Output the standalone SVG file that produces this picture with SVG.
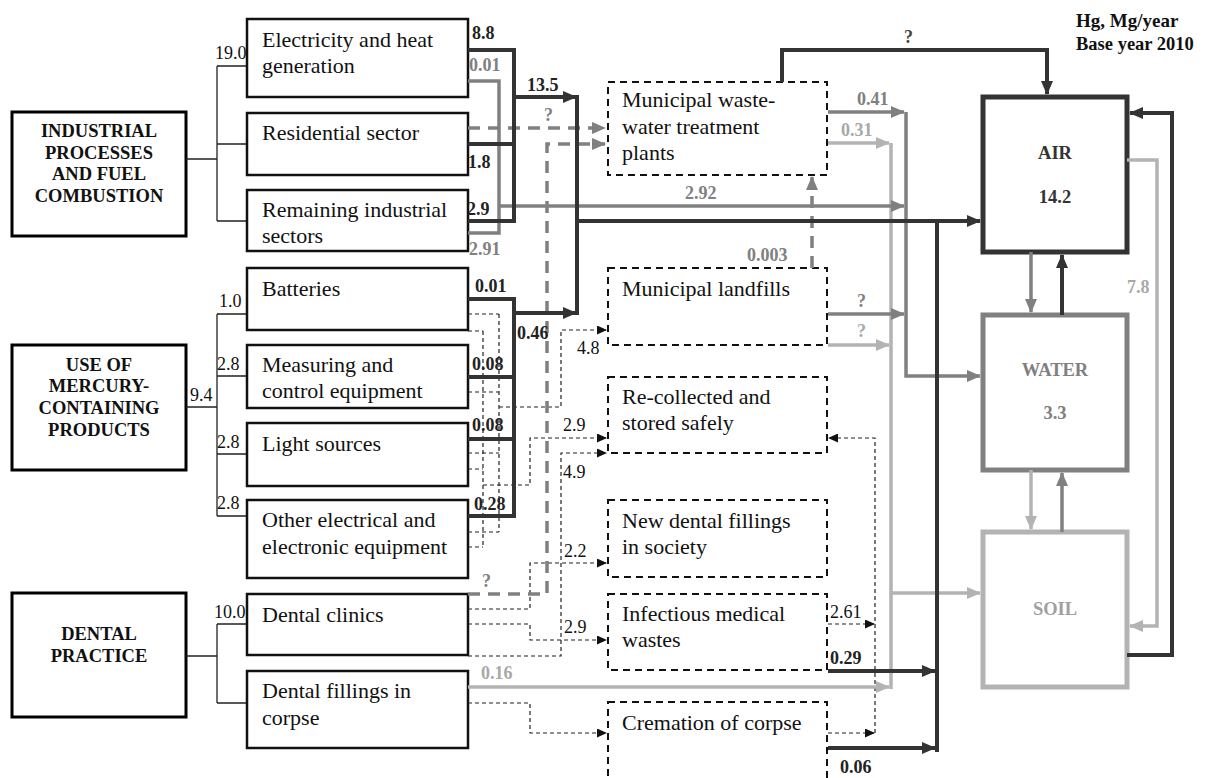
<svg xmlns="http://www.w3.org/2000/svg" width="1207" height="778" viewBox="0 0 1207 778">
<style>
.cat{fill:#fff;stroke:#000;stroke-width:3}
.sub{fill:#fff;stroke:#111;stroke-width:2.5}
.proc{fill:#fff;stroke:#111;stroke-width:2;stroke-dasharray:7 5}
.t{font-family:"Liberation Serif",serif;font-size:22px;fill:#111}
.tc{font-family:"Liberation Serif",serif;font-size:18.5px;font-weight:bold;fill:#111;text-anchor:middle}
.n{font-family:"Liberation Serif",serif;font-size:18px;fill:#111}
.b{font-family:"Liberation Serif",serif;font-size:18px;font-weight:bold;fill:#222}
.bg{font-family:"Liberation Serif",serif;font-size:18px;font-weight:bold;fill:#808080}
.bl{font-family:"Liberation Serif",serif;font-size:18px;font-weight:bold;fill:#a8a8a8}
.tree{fill:none;stroke:#222;stroke-width:1.3}
.dk{fill:none;stroke:#333;stroke-width:4}
.gr{fill:none;stroke:#808080;stroke-width:3.5}
.lg{fill:none;stroke:#b3b3b3;stroke-width:3.5}
.gd{fill:none;stroke:#808080;stroke-width:3.5;stroke-dasharray:12 8}
.td{fill:none;stroke:#222;stroke-width:1.2;stroke-dasharray:4 3}
</style>
<defs>
<marker id="aD" markerUnits="userSpaceOnUse" markerWidth="14" markerHeight="12" refX="13" refY="6" orient="auto"><path d="M0,0 L14,6 L0,12 z" fill="#333"/></marker>
<marker id="aG" markerUnits="userSpaceOnUse" markerWidth="14" markerHeight="12" refX="13" refY="6" orient="auto"><path d="M0,0 L14,6 L0,12 z" fill="#808080"/></marker>
<marker id="aL" markerUnits="userSpaceOnUse" markerWidth="14" markerHeight="12" refX="13" refY="6" orient="auto"><path d="M0,0 L14,6 L0,12 z" fill="#b3b3b3"/></marker>
<marker id="aT" markerUnits="userSpaceOnUse" markerWidth="10" markerHeight="9" refX="9" refY="4.5" orient="auto"><path d="M0,0 L10,4.5 L0,9 z" fill="#111"/></marker>
</defs>

<g id="header">
<text class="tc" x="1076" y="27" style="text-anchor:start;font-size:19px">Hg, Mg/year</text>
<text class="tc" x="1076" y="50" style="text-anchor:start;font-size:18.5px">Base year 2010</text>
</g>

<g id="cat-industrial">
<rect class="cat" x="12" y="112" width="174" height="124"/>
<text class="tc" x="99" y="137">INDUSTRIAL</text>
<text class="tc" x="99" y="159">PROCESSES</text>
<text class="tc" x="99" y="180">AND FUEL</text>
<text class="tc" x="99" y="202">COMBUSTION</text>
</g>
<g id="cat-products">
<rect class="cat" x="12" y="345" width="174" height="125"/>
<text class="tc" x="99" y="371">USE OF</text>
<text class="tc" x="99" y="392">MERCURY-</text>
<text class="tc" x="99" y="414">CONTAINING</text>
<text class="tc" x="99" y="436">PRODUCTS</text>
</g>
<g id="cat-dental">
<rect class="cat" x="12" y="593" width="174" height="124"/>
<text class="tc" x="99" y="640">DENTAL</text>
<text class="tc" x="99" y="662">PRACTICE</text>
</g>

<g id="tree">
<path class="tree" d="M186,159 H217 M217,66 V221 M217,66 H247 M217,144 H247 M217,221 H247"/>
<path class="tree" d="M186,407 H217 M217,314 V516 M217,314 H247 M217,376 H247 M217,454 H247 M217,516 H247"/>
<path class="tree" d="M186,656 H217 M217,624 V703 M217,624 H247 M217,703 H247"/>
<text class="n" x="215" y="59">19.0</text>
<text class="n" x="219" y="307">1.0</text>
<text class="n" x="217" y="370">2.8</text>
<text class="n" x="217" y="448">2.8</text>
<text class="n" x="217" y="509">2.8</text>
<text class="n" x="190" y="401">9.4</text>
<text class="n" x="214" y="618">10.0</text>
</g>

<g id="sub-electricity"><rect class="sub" x="247" y="19" width="221" height="78"/><text class="t" x="262" y="47">Electricity and heat</text><text class="t" x="262" y="73">generation</text></g>
<g id="sub-residential"><rect class="sub" x="247" y="113" width="221" height="62"/><text class="t" x="262" y="140">Residential sector</text></g>
<g id="sub-remaining"><rect class="sub" x="247" y="190" width="221" height="61"/><text class="t" x="262" y="217">Remaining industrial</text><text class="t" x="262" y="243">sectors</text></g>
<g id="sub-batteries"><rect class="sub" x="247" y="268" width="221" height="62"/><text class="t" x="262" y="296">Batteries</text></g>
<g id="sub-measuring"><rect class="sub" x="247" y="345" width="221" height="63"/><text class="t" x="262" y="372">Measuring and</text><text class="t" x="262" y="398">control equipment</text></g>
<g id="sub-light"><rect class="sub" x="247" y="423" width="221" height="63"/><text class="t" x="262" y="451">Light sources</text></g>
<g id="sub-other"><rect class="sub" x="247" y="500" width="221" height="78"/><text class="t" x="262" y="527">Other electrical and</text><text class="t" x="262" y="554">electronic equipment</text></g>
<g id="sub-clinics"><rect class="sub" x="247" y="594" width="221" height="61"/><text class="t" x="262" y="622">Dental clinics</text></g>
<g id="sub-corpse"><rect class="sub" x="247" y="671" width="221" height="77"/><text class="t" x="262" y="698">Dental fillings in</text><text class="t" x="262" y="725">corpse</text></g>

<g id="proc-wwtp"><rect class="proc" x="608" y="82" width="219" height="93"/><text class="t" x="622" y="107">Municipal waste-</text><text class="t" x="622" y="134">water treatment</text><text class="t" x="622" y="160">plants</text></g>
<g id="proc-landfills"><rect class="proc" x="608" y="268" width="219" height="77"/><text class="t" x="622" y="296">Municipal landfills</text></g>
<g id="proc-recollected"><rect class="proc" x="608" y="377" width="219" height="76"/><text class="t" x="622" y="404">Re-collected and</text><text class="t" x="622" y="430">stored safely</text></g>
<g id="proc-newfillings"><rect class="proc" x="608" y="500" width="219" height="77"/><text class="t" x="622" y="528">New dental fillings</text><text class="t" x="622" y="554">in society</text></g>
<g id="proc-infectious"><rect class="proc" x="608" y="594" width="219" height="76"/><text class="t" x="622" y="621">Infectious medical</text><text class="t" x="622" y="647">wastes</text></g>
<g id="proc-cremation"><rect class="proc" x="608" y="702" width="219" height="100"/><text class="t" x="622" y="730">Cremation of corpse</text></g>

<g id="env-air"><rect x="983" y="97" width="144" height="155" fill="#fff" stroke="#333" stroke-width="5"/><text class="tc" x="1055" y="159" style="fill:#333">AIR</text><text class="tc" x="1055" y="203" style="fill:#333">14.2</text></g>
<g id="env-water"><rect x="983" y="315" width="144" height="155" fill="#fff" stroke="#808080" stroke-width="5"/><text class="tc" x="1055" y="376" style="fill:#808080">WATER</text><text class="tc" x="1055" y="419" style="fill:#808080">3.3</text></g>
<g id="env-soil"><rect x="983" y="532" width="144" height="155" fill="#fff" stroke="#b3b3b3" stroke-width="5"/><text class="tc" x="1055" y="615" style="fill:#a0a0a0">SOIL</text></g>

<g id="connectors">
<path class="td" d="M468,314 H499 M468,392 H499 M468,453 H499 M468,532 H499 M499,314 V532"/>
<path class="td" d="M499,407 H561 V330 H606" marker-end="url(#aT)"/>
<path class="td" d="M468,331 H483 M468,469 H483 M468,547 H483 M483,331 V547"/>
<path class="td" d="M483,485 H530 V438 H606" marker-end="url(#aT)"/>
<path class="td" d="M468,656 H561 V453 H606" marker-end="url(#aT)"/>
<path class="td" d="M468,609 H530 V563 H606" marker-end="url(#aT)"/>
<path class="td" d="M468,624 H530 V640 H606" marker-end="url(#aT)"/>
<path class="td" d="M468,703 H530 V733 H606" marker-end="url(#aT)"/>
<path class="td" d="M828,624 H874" marker-end="url(#aT)"/>
<path class="td" d="M828,733 H874" marker-end="url(#aT)"/>
<path class="td" d="M875,733 V438 H829" marker-end="url(#aT)"/>

<path class="gd" d="M468,128 H605" marker-end="url(#aG)"/>
<path class="gd" d="M468,594 H547 V144 H605" marker-end="url(#aG)"/>
<path class="gd" d="M812,268 V177" marker-end="url(#aG)"/>

<path class="lg" d="M891,143 V689"/>
<path class="lg" d="M828,143 H889" marker-end="url(#aL)"/>
<path class="lg" d="M828,345 H889" marker-end="url(#aL)"/>
<path class="lg" d="M468,687 H889" marker-end="url(#aL)"/>
<path class="lg" d="M891,593 H980" marker-end="url(#aL)"/>
<path class="lg" d="M1127,160 H1157 V626 H1130" marker-end="url(#aL)"/>
<path class="lg" d="M1031,470 V529" marker-end="url(#aL)"/>

<path class="gr" d="M468,81 H499 V233 H468"/>
<path class="gr" d="M499,206 H904" marker-end="url(#aG)"/>
<path class="gr" d="M828,112 H904" marker-end="url(#aG)"/>
<path class="gr" d="M828,314 H904" marker-end="url(#aG)"/>
<path class="gr" d="M906,112 V376 H980" marker-end="url(#aG)"/>
<path class="gr" d="M1031,252 V312" marker-end="url(#aG)"/>
<path class="gr" d="M1062,532 V473" marker-end="url(#aG)"/>

<path class="dk" d="M468,50 H514 V221 H468 M468,144 H514"/>
<path class="dk" d="M514,97 H576" marker-end="url(#aD)"/>
<path class="dk" d="M577,95 V315"/>
<path class="dk" d="M577,221 H980" marker-end="url(#aD)"/>
<path class="dk" d="M468,299 H514 V516 H468 M468,377 H514 M468,439 H514"/>
<path class="dk" d="M514,313 H576" marker-end="url(#aD)"/>
<path class="dk" d="M782,82 V50 H1047 V94" marker-end="url(#aD)"/>
<path class="dk" d="M937,221 V752"/>
<path class="dk" d="M828,671 H935" marker-end="url(#aD)"/>
<path class="dk" d="M828,748 H935" marker-end="url(#aD)"/>
<path class="dk" d="M1062,315 V255" marker-end="url(#aD)"/>
<path class="dk" d="M1127,655 H1172 V113 H1130" marker-end="url(#aD)"/>

<text class="b" x="472" y="39">8.8</text>
<text class="bg" x="469" y="71">0.01</text>
<text class="b" x="527" y="91">13.5</text>
<text class="bg" x="544" y="121">?</text>
<text class="b" x="468" y="168">1.8</text>
<text class="b" x="467" y="215">2.9</text>
<text class="bg" x="469" y="255">2.91</text>
<text class="b" x="475" y="292">0.01</text>
<text class="b" x="517" y="339">0.46</text>
<text class="b" x="472" y="370">0.08</text>
<text class="b" x="472" y="431">0.08</text>
<text class="b" x="474" y="510">0.28</text>
<text class="n" x="577" y="354">4.8</text>
<text class="n" x="563" y="431">2.9</text>
<text class="n" x="563" y="478">4.9</text>
<text class="n" x="564" y="557">2.2</text>
<text class="bg" x="482" y="587">?</text>
<text class="n" x="564" y="633">2.9</text>
<text class="bl" x="481" y="679">0.16</text>
<text class="bg" x="685" y="199">2.92</text>
<text class="bg" x="904" y="43" style="fill:#444">?</text>
<text class="bg" x="857" y="105">0.41</text>
<text class="bl" x="841" y="136">0.31</text>
<text class="bg" x="747" y="261">0.003</text>
<text class="bg" x="857" y="307">?</text>
<text class="bl" x="857" y="337">?</text>
<text class="n" x="830" y="618">2.61</text>
<text class="b" x="830" y="664">0.29</text>
<text class="b" x="840" y="773">0.06</text>
<text class="bl" x="1127" y="293">7.8</text>
</g>
</svg>
